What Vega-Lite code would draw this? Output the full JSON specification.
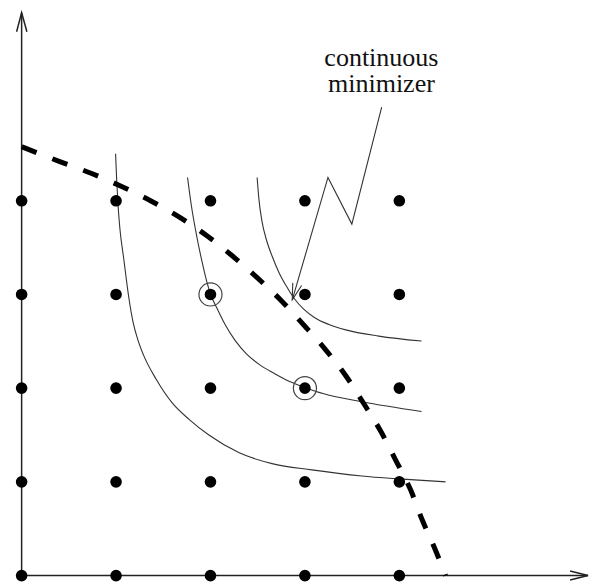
{
  "$schema": "https://vega.github.io/schema/vega-lite/v6.json",
  "width": 592,
  "height": 586,
  "padding": 0,
  "autosize": {"type": "fit", "contains": "padding"},
  "background": "white",
  "config": {"view": {"stroke": null}},
  "encoding": {
    "x": {"field": "x", "type": "quantitative", "scale": {"domain": [-0.229, 6.019], "nice": false, "zero": false}, "axis": null},
    "y": {"field": "y", "type": "quantitative", "scale": {"domain": [-0.058, 6.143], "nice": false, "zero": false}, "axis": null}
  },
  "layer": [
    {
      "data": {"values": [
        {"part": "yaxis", "i": 0, "x": 0, "y": 0},
        {"part": "yaxis", "i": 1, "x": 0, "y": 6.008},
        {"part": "yhead", "i": 0, "x": -0.053, "y": 5.804},
        {"part": "yhead", "i": 1, "x": 0, "y": 6.008},
        {"part": "yhead", "i": 2, "x": 0.056, "y": 5.804},
        {"part": "xaxis", "i": 0, "x": 0, "y": 0},
        {"part": "xaxis", "i": 1, "x": 5.998, "y": 0},
        {"part": "xhead", "i": 0, "x": 5.808, "y": 0.048},
        {"part": "xhead", "i": 1, "x": 5.998, "y": 0},
        {"part": "xhead", "i": 2, "x": 5.808, "y": -0.048}
      ]},
      "mark": {"type": "line", "stroke": "#222", "strokeWidth": 1.5},
      "encoding": {"detail": {"field": "part"}, "order": {"field": "i", "type": "quantitative"}}
    },
    {
      "data": {"values": [
        {"c": 1, "i": 0, "x": 0.995, "y": 4.503},
        {"c": 1, "i": 1, "x": 1.006, "y": 4.238},
        {"c": 1, "i": 2, "x": 1.018, "y": 4.005},
        {"c": 1, "i": 3, "x": 1.04, "y": 3.709},
        {"c": 1, "i": 4, "x": 1.08, "y": 3.392},
        {"c": 1, "i": 5, "x": 1.135, "y": 2.968},
        {"c": 1, "i": 6, "x": 1.18, "y": 2.704},
        {"c": 1, "i": 7, "x": 1.232, "y": 2.513},
        {"c": 1, "i": 8, "x": 1.29, "y": 2.355},
        {"c": 1, "i": 9, "x": 1.428, "y": 2.09},
        {"c": 1, "i": 10, "x": 1.597, "y": 1.84},
        {"c": 1, "i": 11, "x": 1.776, "y": 1.665},
        {"c": 1, "i": 12, "x": 1.987, "y": 1.497},
        {"c": 1, "i": 13, "x": 2.304, "y": 1.31},
        {"c": 1, "i": 14, "x": 2.652, "y": 1.195},
        {"c": 1, "i": 15, "x": 3.074, "y": 1.128},
        {"c": 1, "i": 16, "x": 3.602, "y": 1.063},
        {"c": 1, "i": 17, "x": 3.993, "y": 1.032},
        {"c": 1, "i": 18, "x": 4.489, "y": 1.0},
        {"c": 2, "i": 0, "x": 1.757, "y": 4.249},
        {"c": 2, "i": 1, "x": 1.797, "y": 3.952},
        {"c": 2, "i": 2, "x": 1.858, "y": 3.603},
        {"c": 2, "i": 3, "x": 1.913, "y": 3.339},
        {"c": 2, "i": 4, "x": 1.958, "y": 3.148},
        {"c": 2, "i": 5, "x": 2.001, "y": 3.003},
        {"c": 2, "i": 6, "x": 2.072, "y": 2.847},
        {"c": 2, "i": 7, "x": 2.156, "y": 2.677},
        {"c": 2, "i": 8, "x": 2.262, "y": 2.508},
        {"c": 2, "i": 9, "x": 2.378, "y": 2.37},
        {"c": 2, "i": 10, "x": 2.515, "y": 2.254},
        {"c": 2, "i": 11, "x": 2.673, "y": 2.159},
        {"c": 2, "i": 12, "x": 2.832, "y": 2.074},
        {"c": 2, "i": 13, "x": 3.0, "y": 2.008},
        {"c": 2, "i": 14, "x": 3.2, "y": 1.94},
        {"c": 2, "i": 15, "x": 3.602, "y": 1.855},
        {"c": 2, "i": 16, "x": 4.235, "y": 1.751},
        {"c": 3, "i": 0, "x": 2.494, "y": 4.249},
        {"c": 3, "i": 1, "x": 2.512, "y": 4.026},
        {"c": 3, "i": 2, "x": 2.545, "y": 3.783},
        {"c": 3, "i": 3, "x": 2.596, "y": 3.571},
        {"c": 3, "i": 4, "x": 2.652, "y": 3.41},
        {"c": 3, "i": 5, "x": 2.726, "y": 3.233},
        {"c": 3, "i": 6, "x": 2.8, "y": 3.095},
        {"c": 3, "i": 7, "x": 2.885, "y": 2.96},
        {"c": 3, "i": 8, "x": 2.99, "y": 2.84},
        {"c": 3, "i": 9, "x": 3.1, "y": 2.755},
        {"c": 3, "i": 10, "x": 3.254, "y": 2.68},
        {"c": 3, "i": 11, "x": 3.433, "y": 2.622},
        {"c": 3, "i": 12, "x": 3.782, "y": 2.556},
        {"c": 3, "i": 13, "x": 4.235, "y": 2.503}
      ]},
      "mark": {"type": "line", "stroke": "#333", "strokeWidth": 1.1, "interpolate": "monotone"},
      "encoding": {"detail": {"field": "c"}, "order": {"field": "i", "type": "quantitative"}}
    },
    {
      "data": {"values": [
        {"i": 0, "x": 0, "y": 4.577},
        {"i": 1, "x": 0.404, "y": 4.418},
        {"i": 2, "x": 0.742, "y": 4.291},
        {"i": 3, "x": 1.059, "y": 4.153},
        {"i": 4, "x": 1.375, "y": 3.995},
        {"i": 5, "x": 1.671, "y": 3.825},
        {"i": 6, "x": 1.966, "y": 3.624},
        {"i": 7, "x": 2.23, "y": 3.413},
        {"i": 8, "x": 2.494, "y": 3.18},
        {"i": 9, "x": 2.758, "y": 2.926},
        {"i": 10, "x": 2.99, "y": 2.672},
        {"i": 11, "x": 3.222, "y": 2.407},
        {"i": 12, "x": 3.433, "y": 2.132},
        {"i": 13, "x": 3.623, "y": 1.836},
        {"i": 14, "x": 3.803, "y": 1.54},
        {"i": 15, "x": 3.961, "y": 1.233},
        {"i": 16, "x": 4.119, "y": 0.915},
        {"i": 17, "x": 4.245, "y": 0.587},
        {"i": 18, "x": 4.383, "y": 0.27},
        {"i": 19, "x": 4.489, "y": 0.0}
      ]},
      "mark": {"type": "line", "stroke": "#000", "strokeWidth": 5, "strokeDash": [16, 17], "interpolate": "monotone"},
      "encoding": {"order": {"field": "i", "type": "quantitative"}}
    },
    {
      "data": {"values": [
        {"part": "zig", "i": 0, "x": 3.813, "y": 5.0},
        {"part": "zig", "i": 1, "x": 3.497, "y": 3.751},
        {"part": "zig", "i": 2, "x": 3.244, "y": 4.249},
        {"part": "zig", "i": 3, "x": 2.866, "y": 2.942},
        {"part": "head", "i": 0, "x": 2.965, "y": 3.096},
        {"part": "head", "i": 1, "x": 2.866, "y": 2.942},
        {"part": "head", "i": 2, "x": 2.871, "y": 3.124}
      ]},
      "mark": {"type": "line", "stroke": "#333", "strokeWidth": 1.1},
      "encoding": {"detail": {"field": "part"}, "order": {"field": "i", "type": "quantitative"}}
    },
    {
      "data": {"values": [
        {"x": 0, "y": 0}, {"x": 1, "y": 0}, {"x": 2, "y": 0}, {"x": 3, "y": 0}, {"x": 4, "y": 0},
        {"x": 0, "y": 1}, {"x": 1, "y": 1}, {"x": 2, "y": 1}, {"x": 3, "y": 1}, {"x": 4, "y": 1},
        {"x": 0, "y": 2}, {"x": 1, "y": 2}, {"x": 2, "y": 2}, {"x": 3, "y": 2}, {"x": 4, "y": 2},
        {"x": 0, "y": 3}, {"x": 1, "y": 3}, {"x": 2, "y": 3}, {"x": 3, "y": 3}, {"x": 4, "y": 3},
        {"x": 0, "y": 4}, {"x": 1, "y": 4}, {"x": 2, "y": 4}, {"x": 3, "y": 4}, {"x": 4, "y": 4}
      ]},
      "mark": {"type": "circle", "color": "#000", "opacity": 1, "size": 135}
    },
    {
      "data": {"values": [{"x": 2, "y": 3}, {"x": 3, "y": 2}]},
      "mark": {"type": "point", "shape": "circle", "filled": false, "stroke": "#444", "strokeWidth": 1.2, "opacity": 1, "size": 531}
    },
    {
      "data": {"values": [
        {"x": 3.81, "y": 5.44, "label": "continuous"},
        {"x": 3.81, "y": 5.16, "label": "minimizer"}
      ]},
      "mark": {"type": "text", "font": "Liberation Serif", "fontSize": 26, "align": "center", "baseline": "alphabetic", "color": "#111"},
      "encoding": {"text": {"field": "label"}}
    }
  ]
}
